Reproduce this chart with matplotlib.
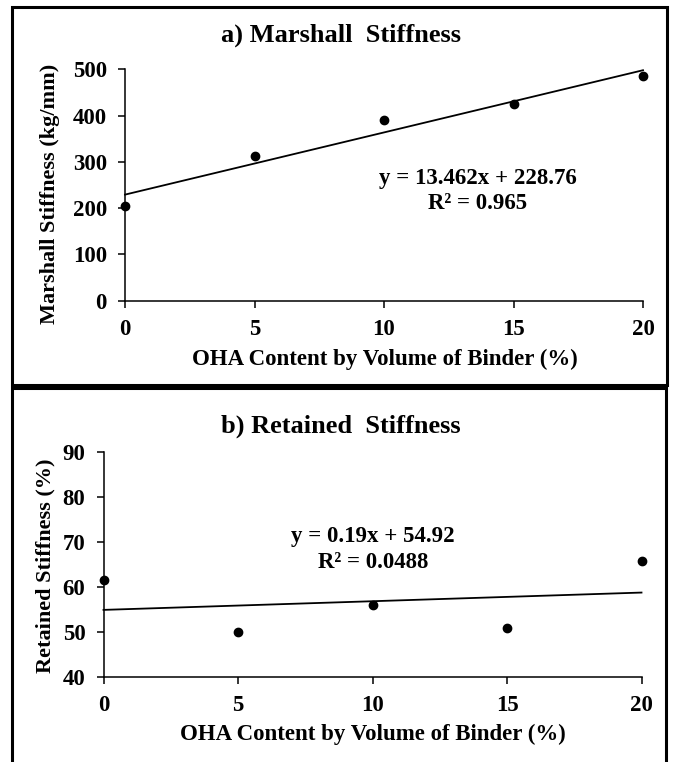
import numpy as np
import matplotlib
matplotlib.use("Agg")
import matplotlib.pyplot as plt
from matplotlib.patches import Rectangle

plt.rcParams['font.family'] = ['Liberation Serif', 'DejaVu Serif']
plt.rcParams['font.weight'] = 'bold'

# Data
oha_content = [0, 5, 10, 15, 20]
marshall_stiffness = [205, 313, 390, 425, 485]
retained_stiffness = [61.5, 50, 56, 51, 65.8]

title_a = "a) Marshall  Stiffness"
title_b = "b) Retained  Stiffness"
ylabel_a = "Marshall Stiffness (kg/mm)"
ylabel_b = "Retained Stiffness (%)"
xlabel = "OHA Content by Volume of Binder (%)"
eq_a = ["y = 13.462x + 228.76", "R\u00b2 = 0.965"]
eq_b = ["y = 0.19x + 54.92", "R\u00b2 = 0.0488"]
xticks = [0, 5, 10, 15, 20]
yticks_a = [0, 100, 200, 300, 400, 500]
yticks_b = [40, 50, 60, 70, 80, 90]

W, H = 673, 762
fig = plt.figure(figsize=(W / 100, H / 100), dpi=100)

def fx(px):
    return px / W

def fy(py):
    return 1 - py / H

# Panel borders
fig.add_artist(Rectangle((fx(12), fy(385)), fx(667) - fx(12), fy(7) - fy(385),
                         transform=fig.transFigure, fill=False, lw=2.2, ec='black'))
fig.add_artist(Rectangle((fx(12), fy(800)), fx(666) - fx(12), fy(388) - fy(800),
                         transform=fig.transFigure, fill=False, lw=2.2, ec='black',
                         clip_on=False))

def style_axes(ax):
    for s in ['top', 'right']:
        ax.spines[s].set_visible(False)
    for s in ['left', 'bottom']:
        ax.spines[s].set_linewidth(1.1)
    ax.tick_params(axis='both', direction='out', length=5, width=1.1,
                   labelsize=16.5)
    ax.tick_params(axis='x', pad=8)
    ax.tick_params(axis='y', pad=8)
    for lab in ax.get_xticklabels() + ax.get_yticklabels():
        lab.set_fontweight('bold')

def trend(ax, x, y):
    p = np.polyfit(x, y, 1)
    xs = np.array([min(x), max(x)])
    ax.plot(xs, np.polyval(p, xs), color='black', lw=1.3, clip_on=False, zorder=2)
    ax.plot(x, y, 'o', color='black', ms=6, clip_on=False, zorder=3)

# Top panel
ax1 = fig.add_axes([fx(125), fy(300.7), fx(643) - fx(125), fy(69.3) - fy(300.7)])
trend(ax1, oha_content, marshall_stiffness)
ax1.set_xlim(0, 20)
ax1.set_ylim(0, 500)
ax1.set_xticks(xticks)
ax1.set_yticks(yticks_a)
style_axes(ax1)
ax1.text(13.63, 263, eq_a[0], ha='center', va='center', fontsize=16.5, fontweight='bold')
ax1.text(13.63, 209, eq_a[1], ha='center', va='center', fontsize=16.5, fontweight='bold')
fig.text(fx(341), fy(35), title_a, ha='center', va='center', fontsize=19, fontweight='bold')
fig.text(fx(49.6), fy(194), ylabel_a, ha='center', va='center', rotation=90,
         fontsize=16, fontweight='bold')
fig.text(fx(384.5), fy(359), xlabel, ha='center', va='center', fontsize=16.5, fontweight='bold')

# Bottom panel
ax2 = fig.add_axes([fx(103.5), fy(677.3), fx(641.5) - fx(103.5), fy(451.7) - fy(677.3)])
trend(ax2, oha_content, retained_stiffness)
ax2.set_xlim(0, 20)
ax2.set_ylim(40, 90)
ax2.set_xticks(xticks)
ax2.set_yticks(yticks_b)
style_axes(ax2)
ax2.text(10.02, 71.2, eq_b[0], ha='center', va='center', fontsize=16.5, fontweight='bold')
ax2.text(10.02, 65.4, eq_b[1], ha='center', va='center', fontsize=16.5, fontweight='bold')
fig.text(fx(341), fy(426), title_b, ha='center', va='center', fontsize=19, fontweight='bold')
fig.text(fx(45), fy(565.5), ylabel_b, ha='center', va='center', rotation=90,
         fontsize=16, fontweight='bold')
fig.text(fx(373), fy(734), xlabel, ha='center', va='center', fontsize=16.5, fontweight='bold')

fig.savefig("out.png", dpi=100)
